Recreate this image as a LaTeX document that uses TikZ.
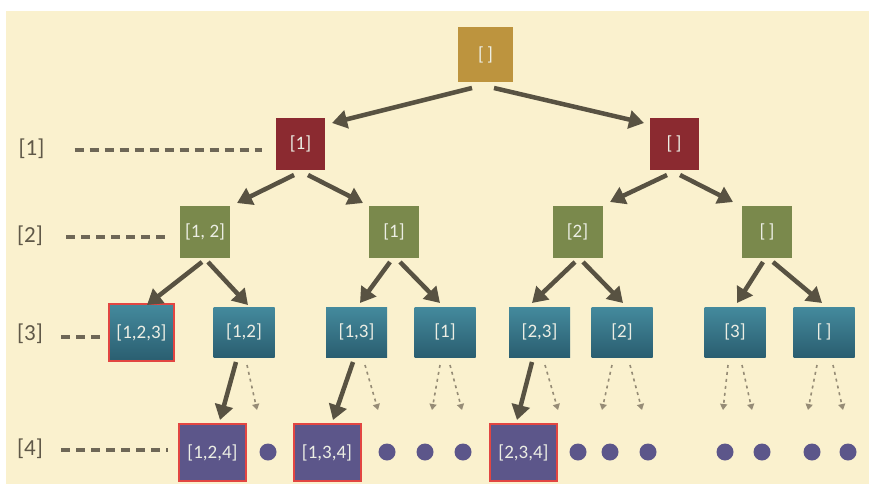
\documentclass[tikz,border=0pt]{standalone}
\usepackage{fontspec}
\setmainfont{Carlito}
\usetikzlibrary{arrows.meta,calc}
\definecolor{bg}{RGB}{250,241,206}
\definecolor{goldc}{RGB}{189,148,62}
\definecolor{winec}{RGB}{139,42,48}
\definecolor{olivec}{RGB}{122,137,76}
\definecolor{tealtop}{RGB}{68,138,157}
\definecolor{tealbot}{RGB}{42,94,112}
\definecolor{purpc}{RGB}{92,86,138}
\definecolor{hlc}{RGB}{226,70,66}
\definecolor{arrc}{RGB}{88,82,66}
\definecolor{dotc}{RGB}{150,140,118}
\definecolor{txtc}{RGB}{236,238,228}
\definecolor{labc}{RGB}{95,88,72}
\definecolor{dashc}{RGB}{110,103,86}
\tikzset{
  boxbase/.style={rectangle, inner sep=0pt, text=txtc, font=\fontsize{19}{19}\selectfont},
  goldbox/.style={boxbase, fill=goldc, minimum width=55pt, minimum height=55pt},
  winebox/.style={boxbase, fill=winec, minimum width=49pt, minimum height=52pt},
  olivebox/.style={boxbase, fill=olivec, minimum width=50pt, minimum height=52pt},
  tealbox/.style={boxbase, top color=tealtop, bottom color=tealbot, minimum width=61pt, minimum height=50pt},
  tealhl/.style={boxbase, top color=tealtop, bottom color=tealbot, draw=hlc, line width=2pt, minimum width=65pt, minimum height=57pt},
  purpbox/.style={boxbase, fill=purpc, draw=hlc, line width=2pt, minimum width=67pt, minimum height=57pt},
  pdot/.style={circle, fill=purpc, minimum size=17pt, inner sep=0pt},
  levlab/.style={text=labc, font=\fontsize{23}{23}\selectfont, inner sep=0pt},
  levdash/.style={draw=dashc, line width=3.5pt, dash pattern=on 9pt off 6pt},
  solidarr/.style={draw=arrc, line width=4.5pt, -{Triangle[length=15pt,width=18pt]}},
  dotarr/.style={draw=dotc, line width=1.6pt, dash pattern=on 3pt off 4pt, -{Triangle[length=6pt,width=7pt]}}
}
\begin{document}
\begin{tikzpicture}[x=1pt,y=-1pt]
\useasboundingbox (0,0) rectangle (869,484);
\fill[white] (0,0) rectangle (869,484);
\fill[bg] (6,11) rectangle (869,484);
% nodes
\node[goldbox] (root) at (485.5,54.5) {[\,]};
\node[winebox] (r1) at (300.5,144) {[1]};
\node[winebox] (r2) at (674,144) {[\,]};
\node[olivebox] (g1) at (205,232) {[1, 2]};
\node[olivebox] (g2) at (394,232) {[1]};
\node[olivebox] (g3) at (577.5,232) {[2]};
\node[olivebox] (g4) at (767,232) {[\,]};
\node[tealhl] (b1) at (141.5,332.5) {[1,2,3]};
\node[tealbox] (b2) at (244,332) {[1,2]};
\node[tealbox] (b3) at (356.5,332) {[1,3]};
\node[tealbox] (b4) at (445,332) {[1]};
\node[tealbox] (b5) at (539.5,332) {[2,3]};
\node[tealbox] (b6) at (622,332) {[2]};
\node[tealbox] (b7) at (735,332) {[3]};
\node[tealbox] (b8) at (824,332) {[\,]};
\node[purpbox] (p1) at (212.5,452.5) {[1,2,4]};
\node[purpbox] (p2) at (327,452.5) {[1,3,4]};
\node[purpbox] (p3) at (523.5,452.5) {[2,3,4]};
\foreach \x [count=\i] in {268,387,425,463,578,610,648,725,762,812,848}
  \node[pdot] (d\i) at (\x,452) {};
% level labels
\node[levlab] (l1) at (31.5,149) {[1]};
\node[levlab] (l2) at (30,236) {[2]};
\node[levlab] (l3) at (30,334) {[3]};
\node[levlab] (l4) at (30,449) {[4]};
\draw[levdash] ($(l1.east)+(30,1)$) -- ($(r1.west)+(-14,6)$);
\draw[levdash] ($(l2.east)+(23,1)$) -- ($(g1.west)+(-10,5)$);
\draw[levdash] ($(l3.east)+(18,3)$) -- ($(b1.west)+(-6,4.5)$);
\draw[levdash] ($(l4.east)+(18,1)$) -- ($(p1.west)+(-10,-2.5)$);
% solid arrows
\draw[solidarr] ($(root)+(-13.5,33.5)$) -- ($(r1)+(31.5,-21)$);
\draw[solidarr] ($(root)+(8.5,33.5)$) -- ($(r2)+(-30,-21)$);
\draw[solidarr] ($(r1)+(-6.5,31)$) -- ($(g1)+(32,-29)$);
\draw[solidarr] ($(r1)+(7.5,31)$) -- ($(g2)+(-31,-29)$);
\draw[solidarr] ($(r2)+(-7,31)$) -- ($(g3)+(32.5,-30)$);
\draw[solidarr] ($(r2)+(6,31)$) -- ($(g4)+(-34,-30)$);
\draw[solidarr] ($(g1)+(-3,30)$) -- ($(b1)+(5.5,-27.5)$);
\draw[solidarr] ($(g1)+(3,30)$) -- ($(b2)+(4,-27)$);
\draw[solidarr] ($(g2)+(-4,30)$) -- ($(b3)+(3.5,-29)$);
\draw[solidarr] ($(g2)+(6,30)$) -- ($(b4)+(-5,-29)$);
\draw[solidarr] ($(g3)+(-2.5,30)$) -- ($(b5)+(-7.5,-29)$);
\draw[solidarr] ($(g3)+(5.5,30)$) -- ($(b6)+(1,-29)$);
\draw[solidarr] ($(g4)+(-4,30)$) -- ($(b7)+(2,-29)$);
\draw[solidarr] ($(g4)+(6,30)$) -- ($(b8)+(-2,-29)$);
\draw[solidarr] ($(b2)+(-8,30)$) -- ($(p1)+(7.5,-32.5)$);
\draw[solidarr] ($(b3)+(-3.5,30)$) -- ($(p2)+(6,-32.5)$);
\draw[solidarr] ($(b5)+(-7.5,30)$) -- ($(p3)+(-6.5,-32.5)$);
% dotted arrows
\coordinate (e2) at (257,410);
\coordinate (e3) at (378,410);
\coordinate (e4a) at (432,410);
\coordinate (e4b) at (462,410);
\coordinate (e5) at (558,410);
\coordinate (e6a) at (602,410);
\coordinate (e6b) at (642,410);
\coordinate (e7a) at (723,410);
\coordinate (e7b) at (752,410);
\coordinate (e8a) at (808,410);
\coordinate (e8b) at (843,410);
\draw[dotarr] ($(b2)+(3,33)$) -- (e2);
\draw[dotarr] ($(b3)+(8.5,33)$) -- (e3);
\draw[dotarr] ($(b4)+(-5,33)$) -- (e4a);
\draw[dotarr] ($(b4)+(5,33)$) -- (e4b);
\draw[dotarr] ($(b5)+(5.5,33)$) -- (e5);
\draw[dotarr] ($(b6)+(-10,33)$) -- (e6a);
\draw[dotarr] ($(b6)+(8,33)$) -- (e6b);
\draw[dotarr] ($(b7)+(-7,33)$) -- (e7a);
\draw[dotarr] ($(b7)+(7,33)$) -- (e7b);
\draw[dotarr] ($(b8)+(-7,33)$) -- (e8a);
\draw[dotarr] ($(b8)+(9,33)$) -- (e8b);
\end{tikzpicture}
\end{document}
